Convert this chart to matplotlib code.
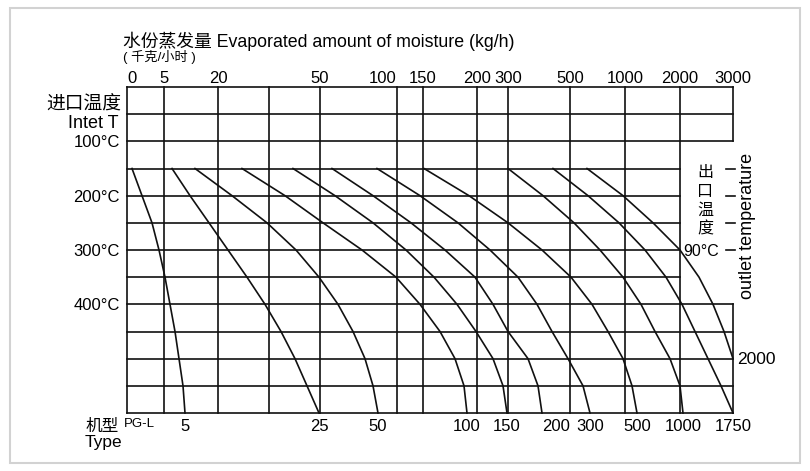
import matplotlib.pyplot as plt
from matplotlib.patches import Rectangle

plt.rcParams['font.family'] = ['Liberation Sans', 'Noto Sans CJK SC']

# top scale: evaporated amount of moisture (kg/h), column positions on the chart's scale
evap_labels = ['0', '5', '20', '', '50', '100', '150', '200', '300', '500', '1000', '2000', '3000']
evap_pos = [0, 37, 91, 142, 193, 270, 296, 350, 381, 443, 498, 553, 606]

# inlet temperature rows (deg C)
temp_rows = [0, 50, 100, 150, 200, 250, 300, 350, 400, 450, 500, 550, 600]
inlet_ticks = [100, 200, 300, 400]
inlet_labels = ['100°C', '200°C', '300°C', '400°C']
short_rows = [150, 200, 250, 300, 350]   # rows that stop at the 2000 column
outlet_ticks = [150, 200, 250, 300]

# type curves, x read at each row from 150 to 600 deg C
curve_temps = [150, 200, 250, 300, 350, 400, 450, 500, 550, 600]
pg5 = [5, 15, 25, 32, 38, 43, 48, 52, 56, 58]
pg25 = [45, 63, 82, 101, 120, 138, 154, 168, 180, 192]
pg50 = [68, 105, 140, 169, 192, 211, 226, 238, 246, 251]
pg100 = [115, 158, 196, 235, 269, 293, 313, 328, 337, 340]
pg150 = [166, 208, 246, 279, 307, 330, 349, 366, 376, 380]
pg200 = [205, 246, 284, 318, 348, 366, 381, 401, 411, 415]
pg300 = [250, 293, 331, 363, 391, 410, 425, 441, 456, 463]
pg500 = [297, 342, 381, 415, 444, 465, 481, 496, 505, 510]
pg1000 = [381, 416, 447, 473, 496, 514, 528, 543, 553, 556]
pg1750 = [426, 461, 492, 518, 539, 555, 568, 581, 594, 606]
type_labels = ['5', '25', '50', '100', '150', '200', '300', '500', '1000', '1750']
curves = [pg5, pg25, pg50, pg100, pg150, pg200, pg300, pg500, pg1000, pg1750]

# PG-L 2000 leaves through the right side
pg2000_temps = [150, 200, 250, 300, 350, 400, 450, 500]
pg2000 = [460, 496, 526, 553, 572, 586, 597, 606]


def px(x, y):
    return x / 810, 1 - y / 471


fig = plt.figure(figsize=(8.1, 4.71), dpi=100)
fig.patches.append(Rectangle(px(10, 463), 790 / 810, 455 / 471, transform=fig.transFigure,
                             fill=False, ec='#d2d2d2', lw=1.5))

ax = fig.add_axes([127 / 810, 58 / 471, 606 / 810, 326 / 471])
ax.set_xlim(0, evap_pos[-1])
ax.set_ylim(temp_rows[-1], temp_rows[0])
for sp in ax.spines.values():
    sp.set_visible(False)

lw = 1.2
col = '#111111'
# grid
for t in temp_rows:
    xmax = evap_pos[-2] if t in short_rows else evap_pos[-1]
    ax.plot([0, xmax], [t, t], color=col, lw=lw, clip_on=False)
for x in evap_pos[:-1]:
    ax.plot([x, x], [temp_rows[0], temp_rows[-1]], color=col, lw=lw, clip_on=False)
ax.plot([evap_pos[-1]] * 2, [0, 100], color=col, lw=lw, clip_on=False)
ax.plot([evap_pos[-1]] * 2, [400, 600], color=col, lw=lw, clip_on=False)
for t in outlet_ticks:
    ax.plot([evap_pos[-1] - 7, evap_pos[-1] + 2], [t, t], color=col, lw=lw, clip_on=False)

# curves
for c in curves:
    ax.plot(c, curve_temps, color=col, lw=lw, clip_on=False)
ax.plot(pg2000, pg2000_temps, color=col, lw=lw, clip_on=False)

# top scale
ax.set_xticks(evap_pos, evap_labels)
ax.xaxis.tick_top()
ax.tick_params(axis='x', length=0, pad=1, labelsize=12)
for lab in ax.get_xticklabels():
    if lab.get_text() == '100':
        lab.set_horizontalalignment('right')
    elif lab.get_text() == '0':
        lab.set_horizontalalignment('left')
ax.set_yticks(inlet_ticks, inlet_labels)
ax.tick_params(axis='y', length=0, pad=5, labelsize=12)

# bottom type scale
sec = ax.secondary_xaxis('bottom')
sec.set_xticks([c[-1] for c in curves], type_labels)
sec.tick_params(length=0, pad=4, labelsize=12)
sec.spines['bottom'].set_visible(False)
for lab in sec.get_xticklabels():
    if lab.get_text() == '200':
        lab.set_horizontalalignment('left')

# texts
fig.text(*px(123, 41), '水份蒸发量 Evaporated amount of moisture (kg/h)', fontsize=12.8, va='center')
fig.text(*px(123, 57), '( 千克/小时 )', fontsize=9.5, va='center')
fig.text(*px(121, 105), '进口温度', fontsize=13.5, ha='right', va='center')
fig.text(*px(119, 123), 'Intet T', fontsize=13, ha='right', va='center')
for i, ch in enumerate('出口温度'):
    fig.text(*px(705, 173 + 18.5 * i), ch, fontsize=11.5, ha='center', va='center')
fig.text(*px(683, 252), '90°C', fontsize=11.5, ha='left', va='center')
fig.text(*px(747, 226), 'outlet temperature', fontsize=13, rotation=90, ha='center', va='center')
fig.text(*px(737, 359), '2000', fontsize=12.5, ha='left', va='center')
fig.text(*px(86, 426), '机型', fontsize=12, ha='left', va='center')
fig.text(*px(124, 424), 'PG-L', fontsize=9.5, ha='left', va='center')
fig.text(*px(85, 443), 'Type', fontsize=12.5, ha='left', va='center')

fig.savefig('out.png', dpi=100)
